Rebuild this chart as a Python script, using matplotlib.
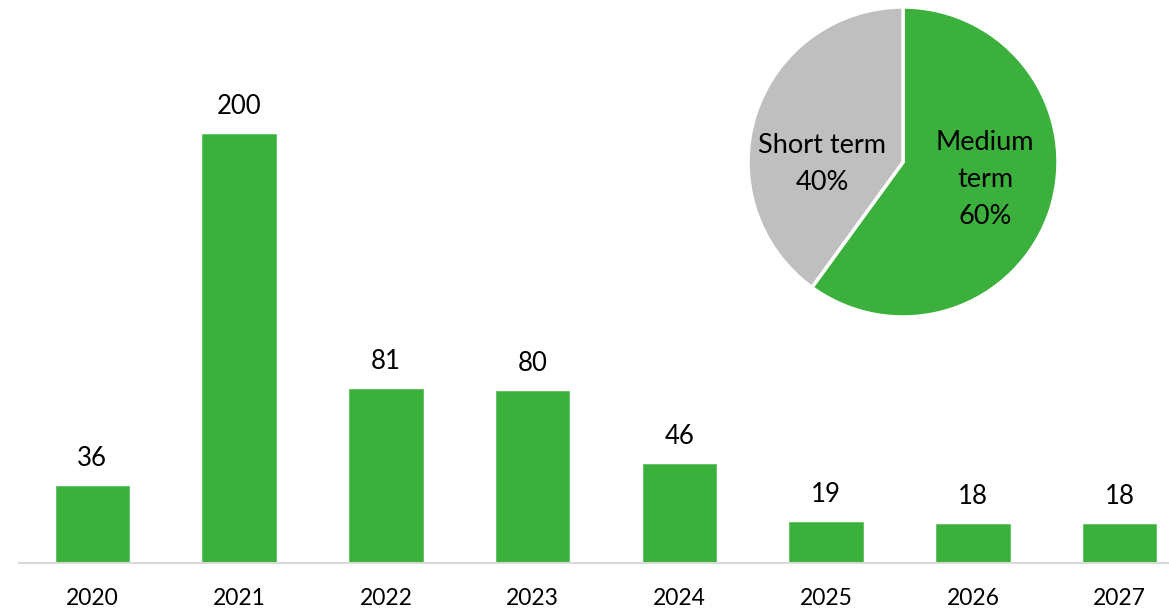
import matplotlib
matplotlib.use('Agg')
import matplotlib.pyplot as plt

plt.rcParams['font.family'] = ['Lato', 'DejaVu Sans']

years = ['2020', '2021', '2022', '2023', '2024', '2025', '2026', '2027']
values = [36, 200, 81, 80, 46, 19, 18, 18]

pie_labels = ['Medium\nterm\n60%', 'Short term\n40%']
pie_shares = [60, 40]

green = '#3CB03C'
grey = '#BFBFBF'

W, H = 1169, 612
fig = plt.figure(figsize=(W / 100, H / 100), dpi=100)

# bar chart - axes runs a bit past the right edge like the original crop
ax = fig.add_axes([19 / W, (H - 563) / H, 1174 / W, 563 / H])
x = range(len(years))
bars = ax.bar(x, values, width=0.5, color=green, edgecolor='#5CC05C', linewidth=0.6)
ax.set_xlim(-0.5, len(years) - 0.5)
ax.set_ylim(0, 262.5)
ax.set_xticks(list(x))
ax.set_xticklabels(years, fontsize=16.5)
ax.tick_params(axis='x', length=0, pad=18)
ax.set_yticks([])
for s in ['top', 'right', 'left']:
    ax.spines[s].set_visible(False)
ax.spines['bottom'].set_color('#D9D9D9')
ax.spines['bottom'].set_linewidth(1.5)

for b, v in zip(bars, values):
    ax.annotate(str(v), (b.get_x() + b.get_width() / 2, v),
                xytext=(0, 11), textcoords='offset points',
                ha='center', va='bottom', fontsize=18.5)

# pie inset
cx, cy, r = 903, 162, 155
pax = fig.add_axes([(cx - r) / W, (H - cy - r) / H, 2 * r / W, 2 * r / H])
wedges, _ = pax.pie(pie_shares, colors=[green, grey], startangle=90, counterclock=False,
                    wedgeprops=dict(edgecolor='white', linewidth=2.5))
pax.set_xlim(-1, 1)
pax.set_ylim(-1, 1)
pax.set_aspect('equal')
pax.text(0.53, -0.11, pie_labels[0], ha='center', va='center', fontsize=19.5, linespacing=1.6)
pax.text(-0.52, -0.01, pie_labels[1], ha='center', va='center', fontsize=19.5, linespacing=1.6)

fig.savefig('out.png', dpi=100, facecolor='white')
